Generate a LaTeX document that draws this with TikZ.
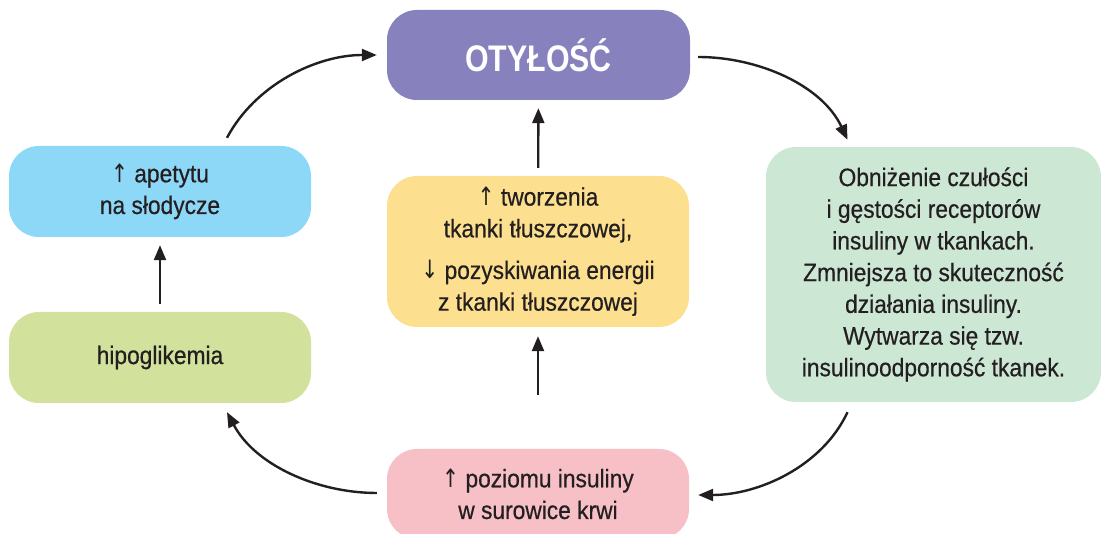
\documentclass[tikz,border=0pt]{standalone}
\usepackage{fontspec}
\setmainfont{Liberation Sans}[FakeStretch=0.9, FakeBold=0.5]
\newfontfamily\titlefont{Liberation Sans}[FakeStretch=0.82]
\newfontfamily\arrfont{DejaVu Sans}[FakeStretch=0.8]
\newcommand{\upar}{{\arrfont ↑}}
\newcommand{\dnar}{{\arrfont ↓}}
\usetikzlibrary{arrows.meta}
\definecolor{cOty}{HTML}{8782BE}
\definecolor{cApet}{HTML}{8ED8F7}
\definecolor{cHipo}{HTML}{D2E29D}
\definecolor{cYel}{HTML}{FDE08F}
\definecolor{cGreen}{HTML}{CDE7D5}
\definecolor{cPink}{HTML}{F7C0C7}
\definecolor{cText}{HTML}{231F20}
\tikzset{
  box/.style={rounded corners=30pt, inner sep=0pt, align=center, text=cText,
    font=\fontsize{25.3}{31.7}\selectfont},
  arr/.style={draw=cText, line width=2.4pt, -{Triangle[length=15pt,width=12pt]}},
}
\begin{document}
\begin{tikzpicture}[x=1pt,y=1pt]
\useasboundingbox (0,0) rectangle (1101,534);
\node[box, fill=cOty, minimum width=303pt, minimum height=90pt, text=white,
  font=\titlefont\fontsize{37}{40}\selectfont\bfseries] (oty) at (538.5,479) {OTYŁOŚĆ};
\node[box, fill=cApet, minimum width=302pt, minimum height=91pt] (apet) at (160,342.5)
  {\upar\ apetytu\\na słodycze};
\node[box, fill=cHipo, minimum width=302pt, minimum height=91pt] (hipo) at (160,176.5)
  {hipoglikemia};
\node[box, fill=cYel, minimum width=302pt, minimum height=151pt] (yel) at (538,282.5)
  {\upar\ tworzenia\\tkanki tłuszczowej,\\[10pt]\dnar\ pozyskiwania energii\\z tkanki tłuszczowej};
\node[box, fill=cGreen, minimum width=335pt, minimum height=255pt] (green) at (933.5,259.5)
  {Obniżenie czułości\\i gęstości receptorów\\insuliny w tkankach.\\Zmniejsza to skuteczność\\działania insuliny.\\Wytwarza się tzw.\\insulinoodporność tkanek.};
\node[box, fill=cPink, minimum width=302pt, minimum height=90pt] (pink) at (538,40)
  {\upar\ poziomu insuliny\\w surowice krwi};
% straight arrows
\draw[arr, shorten <=8pt, shorten >=8pt] (yel) -- (oty);
\draw[arr, shorten <=54pt, shorten >=9pt] (pink) -- (yel);
\draw[arr, shorten <=8pt, shorten >=8pt] (hipo) -- (apet);
% curved arrows
\draw[arr] ([shift={(67pt,8pt)}]apet.north) to[out=62,in=180,looseness=0.9] ([xshift=-10pt]oty.west);
\draw[arr] ([shift={(8pt,-2pt)}]oty.east) to[out=0,in=115,looseness=0.9] ([shift={(-86pt,7pt)}]green.north);
\draw[arr] ([shift={(-86pt,-10pt)}]green.south) to[out=-115,in=0,looseness=0.9] ([shift={(9pt,-1pt)}]pink.east);
\draw[arr] ([shift={(-10pt,1pt)}]pink.west) to[out=180,in=-62,looseness=0.9] ([shift={(67pt,-9pt)}]hipo.south);
\end{tikzpicture}
\end{document}
